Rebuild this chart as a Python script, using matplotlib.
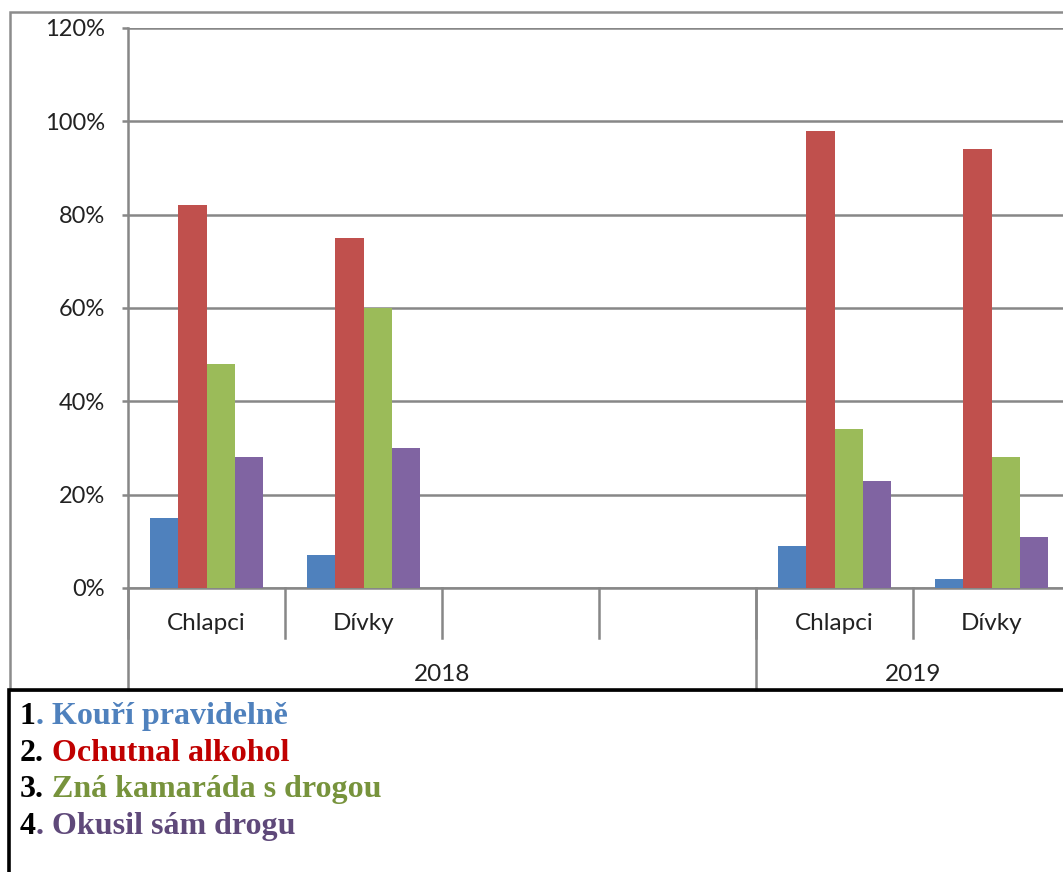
import matplotlib.pyplot as plt
import numpy as np
from matplotlib.patches import Rectangle
from matplotlib.ticker import PercentFormatter, MultipleLocator
from matplotlib.transforms import blended_transform_factory

# Data (percent)
groups = ["Chlapci", "Dívky", "", "", "Chlapci", "Dívky"]
years = ["2018", "2019"]
year_span = [4, 2]  # number of category slots per year

kouri = [15, 7, np.nan, np.nan, 9, 2]
alkohol = [82, 75, np.nan, np.nan, 98, 94]
kamarad = [48, 60, np.nan, np.nan, 34, 28]
drogu = [28, 30, np.nan, np.nan, 23, 11]

series = [kouri, alkohol, kamarad, drogu]
bar_colors = ["#4F81BD", "#C0504D", "#9BBB59", "#8064A2"]

legend_nums = ["1", "2.", "3.", "4"]
legend_texts = [". Kouří pravidelně", " Ochutnal alkohol",
                " Zná kamaráda s drogou", ". Okusil sám drogu"]
legend_colors = ["#4F81BD", "#C00000", "#77933C", "#5F497A"]

GRID = "#878787"
W, H = 1063, 872

fig = plt.figure(figsize=(W / 100, H / 100), dpi=100)

# outer chart frame (gray) and the legend box (black) below it
fig.patches.append(Rectangle((10 / W, (H - 690) / H), 1.2, (690 - 12) / H,
                             transform=fig.transFigure, fill=False,
                             edgecolor="#8C8C8C", linewidth=1.8))
fig.patches.append(Rectangle((9 / W, -0.1), 1.2, (H - 690) / H + 0.1,
                             transform=fig.transFigure, fill=False,
                             edgecolor="black", linewidth=2.6, zorder=5))

# plot area: left 128px, top 28px, zero line at 588px, slots ~157px wide
ax = fig.add_axes([128 / W, (H - 588) / H, (157 * len(groups)) / W, (588 - 28) / H])
ax.set_xlim(0, len(groups))
ax.set_ylim(0, 120)

x = np.arange(len(groups)) + 0.5
bw = 0.18
for i, (vals, col) in enumerate(zip(series, bar_colors)):
    ax.bar(x + (i - 1.5) * bw, vals, width=bw, color=col, zorder=3)

ax.yaxis.set_major_locator(MultipleLocator(20))
ax.yaxis.set_major_formatter(PercentFormatter(decimals=0))
ax.grid(axis="y", color=GRID, linewidth=1.8, zorder=1)
ax.set_axisbelow(True)
for s in ["top", "right"]:
    ax.spines[s].set_visible(False)
for s in ["left", "bottom"]:
    ax.spines[s].set_color(GRID)
    ax.spines[s].set_linewidth(1.8)
ax.tick_params(axis="y", length=4.5, width=1.8, color=GRID, pad=12,
               labelsize=17, labelcolor="#222222")
ax.tick_params(axis="x", bottom=False, labelbottom=False)
for lab in ax.get_yticklabels():
    lab.set_fontfamily("Lato")

trans = blended_transform_factory(ax.transData, ax.transAxes)
ah = 588 - 28  # axes height in px

# inner category labels and separators
for i, g in enumerate(groups):
    ax.text(x[i], -36 / ah, g, transform=trans, ha="center", va="center",
            fontsize=17.5, family="Lato", color="#222222")
for b in range(len(groups) + 1):
    ax.plot([b, b], [0, -50 / ah], transform=trans, color=GRID,
            linewidth=1.8, clip_on=False)

# year labels and separators
bounds = np.concatenate([[0], np.cumsum(year_span)])
for j, yr in enumerate(years):
    ax.text((bounds[j] + bounds[j + 1]) / 2, -86 / ah, yr, transform=trans,
            ha="center", va="center", fontsize=17.5, family="Lato",
            color="#222222")
for b in bounds:
    ax.plot([b, b], [0, -102 / ah], transform=trans, color=GRID,
            linewidth=1.8, clip_on=False)

# numbered legend lines under the chart
for k in range(len(legend_texts)):
    yb = (H - (724 + 36.5 * k)) / H
    t = fig.text(20 / W, yb, legend_nums[k], color="black", fontsize=23,
                 family="Liberation Serif", weight="bold", va="baseline")
    fig.add_artist(plt.Annotation(legend_texts[k], xy=(1, 0), xycoords=t,
                                  va="bottom", ha="left", color=legend_colors[k],
                                  fontsize=23, family="Liberation Serif",
                                  weight="bold"))

fig.savefig("out.png", dpi=100)
